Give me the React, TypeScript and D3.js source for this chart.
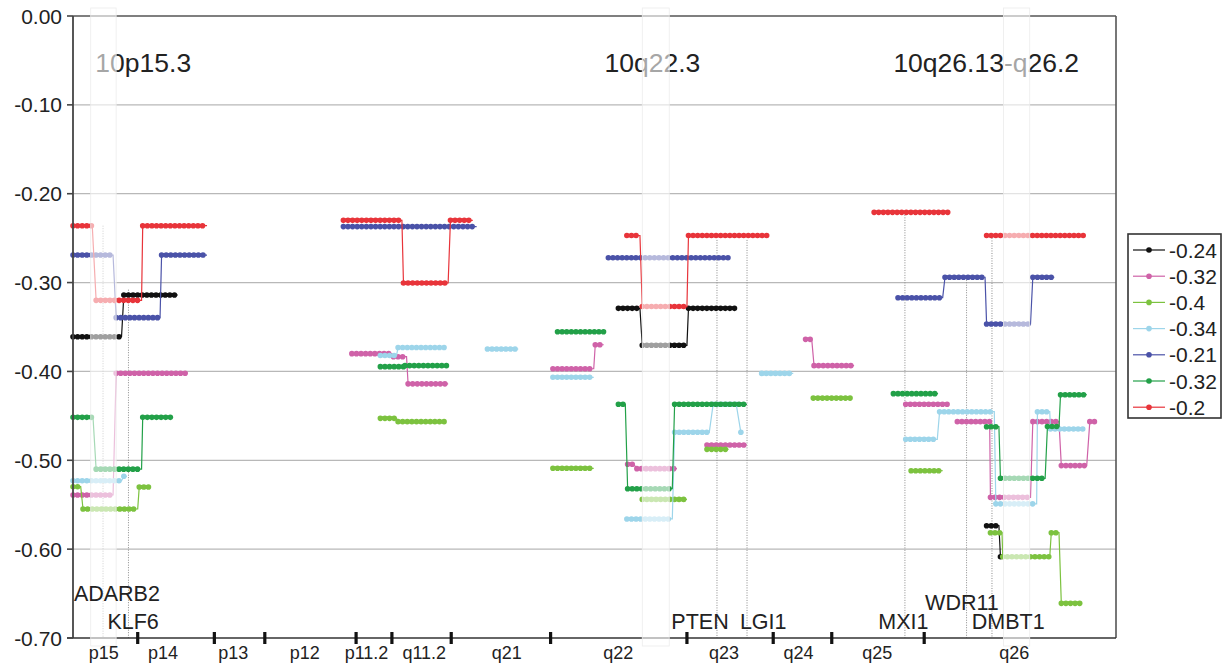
import React from 'react'
import { scaleLinear, line } from 'd3'

// segment = [start Mb, end Mb, log ratio]; each inner list is one connected run
type Seg = [number, number, number]

const legendLabels = ['-0.24', '-0.32', '-0.4', '-0.34', '-0.21', '-0.32', '-0.2']
const colors = ['#111111', '#cf62a8', '#7cc23f', '#9dd5ea', '#4a52a8', '#22a048', '#e8343a']

const blackSegs: Seg[][] = [
  [[0, 6.3, -0.361], [6.6, 13.6, -0.314]],
  [[70.8, 73.6, -0.329], [73.9, 79.7, -0.3706], [79.9, 86.2, -0.329]],
  [[118.6, 120.2, -0.5736], [120.4, 120.4, -0.6085]],
]

const pinkSegs: Seg[][] = [
  [[0, 5.2, -0.539], [5.6, 14.9, -0.402]],
  [[36.2, 41.4, -0.38], [41.6, 43.3, -0.3834], [43.5, 48.7, -0.414]],
  [[62.3, 67.6, -0.397], [67.8, 68.9, -0.37]],
  [[72.0, 72.8, -0.5045], [73.2, 78.4, -0.5094]],
  [[82.3, 87.5, -0.4828]],
  [[95.1, 95.9, -0.3639], [96.2, 101.4, -0.3935]],
  [[108.1, 113.6, -0.437]],
  [[114.8, 119.0, -0.4565], [119.1, 124.3, -0.5417], [124.6, 128.0, -0.4565], [128.3, 131.6, -0.506], [132.0, 132.7, -0.4565]],
]

const limeSegs: Seg[][] = [
  [[0, 1.0, -0.5297], [1.3, 8.4, -0.5548], [8.6, 10.1, -0.53]],
  [[39.9, 42.0, -0.4528], [42.2, 48.3, -0.4565]],
  [[62.3, 67.6, -0.509]],
  [[73.9, 79.7, -0.544]],
  [[82.3, 85.1, -0.4877]],
  [[96.1, 100.9, -0.43]],
  [[108.8, 112.9, -0.5117]],
  [[119.1, 120.6, -0.5815], [120.7, 126.8, -0.6085], [127.0, 128.0, -0.5815], [128.3, 131.0, -0.661]],
]

const skySegs: Seg[][] = [
  [[0, 6.3, -0.523], [6.6, 7.0, -0.518]],
  [[39.9, 42.0, -0.382], [42.2, 48.3, -0.373]],
  [[53.8, 57.8, -0.3748]],
  [[62.3, 67.6, -0.4066]],
  [[71.9, 77.8, -0.566], [78.1, 82.6, -0.4685], [83.1, 86.1, -0.437], [86.7, 86.7, -0.4685]],
  [[89.4, 93.5, -0.4022]],
  [[108.1, 112.2, -0.4764], [112.5, 119.6, -0.4453], [119.8, 125.1, -0.549], [125.2, 126.8, -0.4453], [126.9, 131.1, -0.4648]],
]

const navySegs: Seg[][] = [
  [[0, 5.2, -0.269], [5.6, 11.3, -0.3395], [11.5, 17.4, -0.269]],
  [[35.1, 52.4, -0.237]],
  [[69.5, 85.1, -0.272]],
  [[107.1, 112.9, -0.317], [113.2, 118.4, -0.294], [118.6, 124.3, -0.3466], [124.6, 127.4, -0.294]],
]

const greenSegs: Seg[][] = [
  [[0, 2.6, -0.4517], [3.0, 8.9, -0.51], [9.05, 13.0, -0.4517]],
  [[39.9, 42.9, -0.3946], [43.1, 48.7, -0.3935]],
  [[62.9, 68.9, -0.3553]],
  [[70.8, 71.7, -0.437], [72.0, 77.8, -0.532], [78.1, 87.5, -0.437]],
  [[106.5, 112.3, -0.425]],
  [[118.6, 120.2, -0.4622], [120.4, 126.2, -0.5203], [126.5, 128.0, -0.462], [128.2, 131.6, -0.4262]],
]

const redSegs: Seg[][] = [
  [[0, 2.5, -0.236], [3.0, 8.9, -0.32], [9.05, 17.4, -0.236]],
  [[35.1, 42.7, -0.23], [42.9, 48.7, -0.3005], [49.0, 51.9, -0.23]],
  [[71.9, 73.6, -0.247], [73.9, 79.7, -0.327], [79.9, 90.1, -0.247]],
  [[104.0, 113.6, -0.221]],
  [[118.6, 131.2, -0.247]],
]

const series = [blackSegs, pinkSegs, limeSegs, skySegs, navySegs, greenSegs, redSegs]

const yTicks = [0, -0.1, -0.2, -0.3, -0.4, -0.5, -0.6, -0.7]
const yTickLabels = ['0.00', '-0.10', '-0.20', '-0.30', '-0.40', '-0.50', '-0.60', '-0.70']

// cytoband boundaries and labels (Mb)
const bandTicks = [8.4, 18.35, 24.9, 36.75, 41.4, 49.1, 62.0, 79.7, 90.9, 98.5, 110.5]
const bandNames = ['p15', 'p14', 'p13', 'p12', 'p11.2', 'q11.2', 'q21', 'q22', 'q23', 'q24', 'q25', 'q26']
const bandCenters = [4.0, 11.7, 20.8, 30.1, 38.1, 45.6, 56.3, 70.8, 84.5, 94.2, 104.4, 122.2]

// genes: name, position, top of marker line, label centre
const geneNames = ['ADARB2', 'KLF6', 'PTEN', 'LGI1', 'MXI1', 'WDR11', 'DMBT1']
const genePos = [3.9, 7.2, 83.6, 87.5, 108.0, 116.0, 119.3]
const geneTop = [-0.236, -0.308, -0.252, -0.252, -0.221, -0.294, -0.247]
const geneLabelX = [5.7, 7.8, 81.4, 89.6, 107.8, 115.4, 121.4]
const geneLabelRow = [2, 0, 0, 0, 0, 1, 0]

// highlighted regions
const regionNames = ['10p15.3', '10q22.3', '10q26.13-q26.2']
const regionLabelX = [2.9, 69.0, 106.5]
const regionSpans: [number, number][] = [[2.3, 5.6], [73.9, 77.4], [120.8, 124.2]]

const W = 1225
const H = 665
const font = '"Liberation Sans", Arial, Helvetica, sans-serif'

export default function App() {
  const x = scaleLinear().domain([0, 135.4]).range([73, 1116])
  const y = scaleLinear().domain([0, -0.7]).range([16, 638])
  const path = line<[number, number]>()
    .x((d) => x(d[0]))
    .y((d) => y(d[1]))

  const [x0, x1] = x.range()
  const [yTop, yBot] = y.range()
  const rowY = [629, 610, 601]

  return (
    <svg
      width={W}
      height={H}
      style={{ position: 'absolute', left: 0, top: 0, display: 'block' }}
      fontFamily={font}
    >
      <rect width={W} height={H} fill="#fff" />

      {/* grid */}
      {yTicks.slice(1, -1).map((v) => (
        <line key={v} x1={x0} x2={x1} y1={y(v)} y2={y(v)} stroke="#b8b8b8" strokeWidth={1.2} />
      ))}

      {/* gene marker lines */}
      {genePos.map((p, i) => (
        <line
          key={geneNames[i]}
          x1={x(p)}
          x2={x(p)}
          y1={y(geneTop[i])}
          y2={yBot}
          stroke="#8a8a8a"
          strokeWidth={1}
          strokeDasharray="1 1.5"
        />
      ))}

      {/* series */}
      {series.map((groups, i) => (
        <g key={i}>
          {groups.map((segs, j) => (
            <g key={j}>
              <path
                d={path(segs.flatMap((s) => [[s[0], s[2]], [s[1], s[2]]] as [number, number][])) || ''}
                fill="none"
                stroke={colors[i]}
                strokeWidth={1.2}
              />
              {segs.map((s, k) => (
                <path
                  key={k}
                  d={`M${x(s[0])},${y(s[2])}H${x(s[1])}`}
                  fill="none"
                  stroke={colors[i]}
                  strokeWidth={5.6}
                  strokeLinecap="round"
                  strokeDasharray="0 4.6"
                />
              ))}
            </g>
          ))}
        </g>
      ))}

      {/* region labels */}
      {regionNames.map((r, i) => (
        <text key={r} x={x(regionLabelX[i])} y={72} fontSize={26.5} fill="#222">
          {r}
        </text>
      ))}

      {/* frame */}
      <line x1={x0} x2={x1} y1={yTop} y2={yTop} stroke="#555" strokeWidth={1.6} />
      <line x1={x1} x2={x1} y1={yTop} y2={yBot} stroke="#555" strokeWidth={1.6} />
      <line x1={x0} x2={x0} y1={yTop} y2={yBot} stroke="#444" strokeWidth={1.8} />
      <line x1={x0 - 6} x2={x1} y1={yBot} y2={yBot} stroke="#333" strokeWidth={1.6} />

      {/* highlighted region overlay */}
      {regionSpans.map((s, i) => (
        <rect
          key={i}
          x={x(s[0])}
          y={8}
          width={x(s[1]) - x(s[0])}
          height={638}
          fill="#fff"
          fillOpacity={0.6}
          stroke="#ececec"
          strokeWidth={0.8}
        />
      ))}

      {/* y axis */}
      {yTicks.map((v, i) => (
        <g key={v}>
          <line x1={x0 - 6} x2={x0} y1={y(v)} y2={y(v)} stroke="#444" strokeWidth={1.6} />
          <text x={x0 - 11} y={y(v)} dy="0.36em" textAnchor="end" fontSize={21} fill="#222">
            {yTickLabels[i]}
          </text>
        </g>
      ))}

      {/* cytoband ticks and names */}
      {bandTicks.map((b) => (
        <rect key={b} x={x(b) - 1.6} y={yBot - 6} width={3.2} height={12} fill="#111" />
      ))}
      {bandNames.map((b, i) => (
        <text key={b} x={x(bandCenters[i])} y={659} textAnchor="middle" fontSize={18} fill="#222">
          {b}
        </text>
      ))}

      {/* gene labels */}
      {geneNames.map((g, i) => (
        <text key={g} x={x(geneLabelX[i])} y={rowY[geneLabelRow[i]]} textAnchor="middle" fontSize={21.5} fill="#222">
          {g}
        </text>
      ))}

      {/* legend */}
      <g transform="translate(1128,234)">
        <rect width={93} height={184} fill="#fff" stroke="#333" strokeWidth={1.6} />
        {legendLabels.map((l, i) => (
          <g key={i} transform={`translate(0,${16 + i * 26.2})`}>
            <line x1={5} x2={37} y1={0} y2={0} stroke={colors[i]} strokeWidth={1.2} />
            <circle cx={21} cy={0} r={2.8} fill={colors[i]} />
            <text x={41} y={0} dy="0.36em" fontSize={21} fill="#222">
              {l}
            </text>
          </g>
        ))}
      </g>
    </svg>
  )
}
